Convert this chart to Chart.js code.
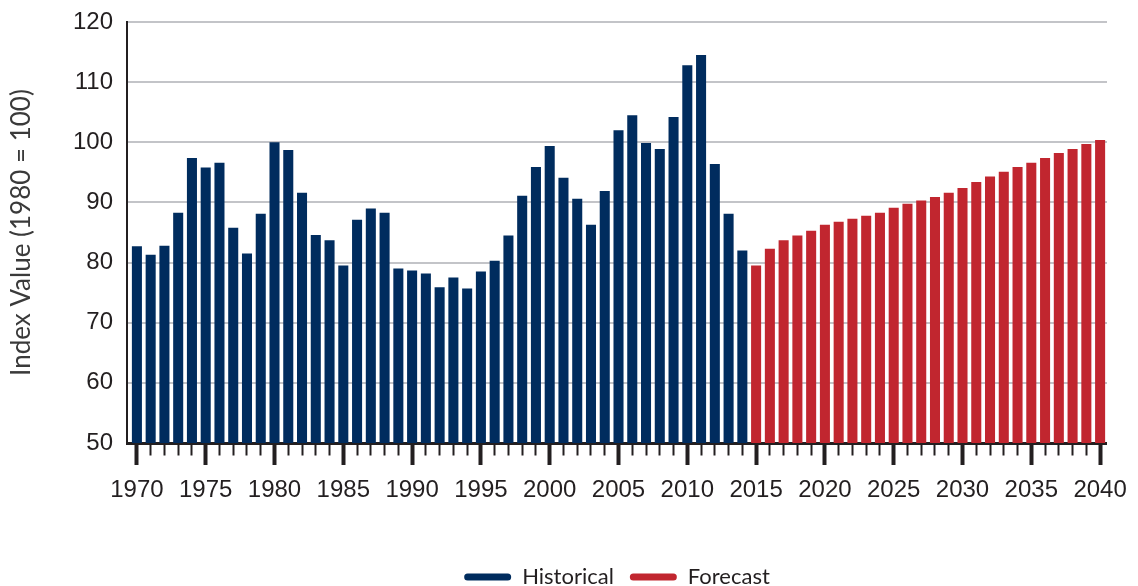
<!DOCTYPE html>
<html>
<head>
<meta charset="utf-8">
<script src="https://cdn.jsdelivr.net/npm/chart.js@4.4.1/dist/chart.umd.min.js"></script>
<style>
  html, body { margin: 0; padding: 0; background: #ffffff; }
  #wrap { width: 1138px; height: 586px; position: relative; }
</style>
</head>
<body>
<div id="wrap"><canvas id="c"></canvas></div>
<script>
const years = [1970,1971,1972,1973,1974,1975,1976,1977,1978,1979,
               1980,1981,1982,1983,1984,1985,1986,1987,1988,1989,
               1990,1991,1992,1993,1994,1995,1996,1997,1998,1999,
               2000,2001,2002,2003,2004,2005,2006,2007,2008,2009,
               2010,2011,2012,2013,2014,2015,2016,2017,2018,2019,
               2020,2021,2022,2023,2024,2025,2026,2027,2028,2029,
               2030,2031,2032,2033,2034,2035,2036,2037,2038,2039,2040];
const historicalYears = years.slice(0, 45);   // 1970–2014
const forecastYears = years.slice(45);        // 2015–2040
const historical = [82.7,81.3,82.8,88.3,97.4,95.8,96.6,85.8,81.5,88.1,
                    100.0,98.7,91.6,84.6,83.7,79.5,87.1,89.0,88.3,79.0,
                    78.7,78.2,75.9,77.5,75.7,78.5,80.3,84.5,91.1,95.9,
                    99.4,94.1,90.6,86.3,91.9,102.0,104.5,99.9,98.9,104.2,
                    112.8,114.5,96.4,88.1,82.0];
const forecast = [79.5,82.3,83.7,84.5,85.3,86.3,86.8,87.3,87.8,88.3,
                  89.1,89.8,90.3,90.9,91.6,92.4,93.4,94.3,95.1,95.9,
                  96.6,97.4,98.2,98.9,99.7,100.4];
const yTicks = [50,60,70,80,90,100,110,120];
const majorYears = [1970,1975,1980,1985,1990,1995,2000,2005,2010,2015,2020,2025,2030,2035,2040];
const seriesNames = ['Historical', 'Forecast'];

const tickFont = "'Liberation Sans', Arial, sans-serif";
const soft = "Lato, 'Open Sans', sans-serif";
const ink = '#231f20';
const isMajor = (ctx) => ctx && ctx.tick && majorYears.includes(ctx.tick.value);

new Chart(document.getElementById('c'), {
  type: 'bar',
  data: {
    datasets: [
      {
        label: seriesNames[0],
        data: historical.map((v, i) => ({ x: historicalYears[i], y: v })),
        backgroundColor: '#002c5e',
        borderWidth: 0,
        barPercentage: 0.73,
        categoryPercentage: 1.0
      },
      {
        label: seriesNames[1],
        data: forecast.map((v, i) => ({ x: forecastYears[i], y: v })),
        backgroundColor: '#c1262f',
        borderWidth: 0,
        barPercentage: 0.73,
        categoryPercentage: 1.0
      }
    ]
  },
  options: {
    responsive: true,
    maintainAspectRatio: false,
    animation: false,
    layout: { padding: { top: 22, right: 28, left: 0, bottom: -12 } },
    plugins: {
      tooltip: { enabled: false },
      legend: {
        position: 'bottom',
        fullSize: false,
        labels: {
          boxWidth: 47,
          boxHeight: 7,
          useBorderRadius: true,
          borderRadius: 3.5,
          padding: 16,
          color: ink,
          font: { family: soft, size: 22 }
        }
      }
    },
    scales: {
      x: {
        type: 'linear',
        min: 1969.28,
        max: 2040.5,
        stacked: true,
        offset: false,
        afterBuildTicks: (s) => { s.ticks = years.map(v => ({ value: v })); },
        afterFit: (s) => { s.height = 107; },
        ticks: {
          autoSkip: false,
          maxRotation: 0,
          minRotation: 0,
          padding: 11,
          color: ink,
          font: { family: tickFont, size: 24 },
          callback: (v) => majorYears.includes(v) ? String(v) : ''
        },
        grid: {
          drawOnChartArea: false,
          offset: false,
          tickLength: 22,
          tickColor: ink,
          tickWidth: (ctx) => isMajor(ctx) ? 4 : 2,
          tickBorderDash: (ctx) => isMajor(ctx) ? [] : [10.5, 40]
        },
        border: { display: true, color: ink, width: 3 }
      },
      y: {
        min: yTicks[0],
        max: yTicks[yTicks.length - 1],
        afterBuildTicks: (s) => { s.ticks = yTicks.map(v => ({ value: v })); },
        afterFit: (s) => { s.width = 127; },
        ticks: {
          padding: 0,
          color: ink,
          font: { family: tickFont, size: 24 }
        },
        grid: { color: '#c3c4c8', lineWidth: 2, drawTicks: true, tickLength: 14, tickColor: 'rgba(0,0,0,0)' },
        border: { display: true, color: ink, width: 2 },
        title: {
          display: true,
          text: 'Index Value (1980 = 100)',
          color: '#3a3a3a',
          font: { family: soft, size: 26 },
          padding: { top: 6, bottom: 0 }
        }
      }
    }
  }
});
</script>
</body>
</html>
